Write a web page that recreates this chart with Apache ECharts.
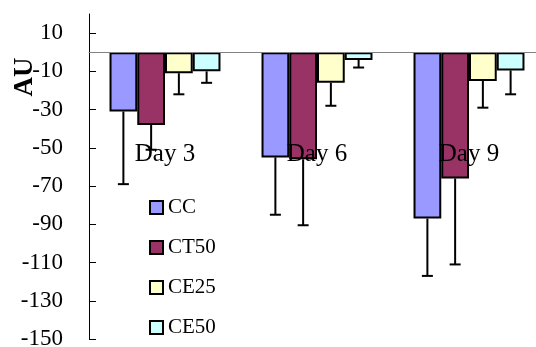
<!DOCTYPE html>
<html><head><meta charset="utf-8">
<script src="https://cdn.jsdelivr.net/npm/echarts@6/dist/echarts.min.js"></script>
<style>html,body{margin:0;padding:0;background:#fff}#c{width:536px;height:347px}</style>
</head><body><div id="c"></div>
<script>
const categories = ['Day 3', 'Day 6', 'Day 9'];
const seriesNames = ['CC', 'CT50', 'CE25', 'CE50'];
const ccValues = [-31, -55, -87];
const ct50Values = [-38, -56, -66];
const ce25Values = [-11, -16, -15];
const ce50Values = [-10, -4, -9.5];
const ccErrors = [38, 30, 30];
const ct50Errors = [13, 34.5, 45];
const ce25Errors = [11, 12, 14];
const ce50Errors = [6, 4, 12.5];
const yTicks = [10, -10, -30, -50, -70, -90, -110, -130, -150];

const colors = ['#9999FF', '#993366', '#FFFFCC', '#CCFFFF'];
const valueSets = [ccValues, ct50Values, ce25Values, ce50Values];
const errorSets = [ccErrors, ct50Errors, ce25Errors, ce50Errors];
const CAT_GAP = 0.27;
const FONT = '"Liberation Serif", "Times New Roman", serif';

const errData = [];
valueSets.forEach((vals, s) => {
  vals.forEach((v, i) => errData.push([i, v, errorSets[s][i], s]));
});

function renderErr(params, api) {
  const ci = api.value(0), v = api.value(1), e = api.value(2), s = api.value(3);
  const catW = api.size([1, 0])[0];
  const bw = catW * (1 - CAT_GAP) / 4;
  const off = (s - 1.5) * bw;
  const top = api.coord([ci, v]);
  const bot = api.coord([ci, v - e]);
  const x = top[0] + off;
  const cap = 11;
  return {
    type: 'group',
    children: [
      { type: 'line', shape: { x1: x, y1: top[1], x2: x, y2: bot[1] }, style: { stroke: '#000', lineWidth: 2 } },
      { type: 'line', shape: { x1: x - cap / 2, y1: bot[1], x2: x + cap / 2, y2: bot[1] }, style: { stroke: '#000', lineWidth: 2 } }
    ]
  };
}

const chart = echarts.init(document.getElementById('c'), null, { renderer: 'canvas' });
const barSeries = seriesNames.map((n, s) => ({
  name: n,
  type: 'bar',
  data: valueSets[s],
  barGap: '0%',
  barCategoryGap: (CAT_GAP * 100) + '%',
  itemStyle: { color: colors[s], borderColor: '#000', borderWidth: 2 },
  emphasis: { disabled: true },
  animation: false
}));

chart.setOption({
  animation: false,
  backgroundColor: '#fff',
  grid: { left: 89, top: 14, bottom: 8, right: -9, containLabel: false, outerBoundsMode: 'none' },
  legend: {
    data: seriesNames,
    orient: 'vertical',
    left: 149,
    top: 197,
    padding: 0,
    itemWidth: 13,
    itemHeight: 13,
    itemGap: 19,
    itemTextGap: 3,
    icon: 'rect',
    itemStyle: { borderColor: '#000', borderWidth: 2 },
    textStyle: { fontFamily: FONT, fontSize: 21, color: '#000', lineHeight: 21 }
  },
  xAxis: {
    type: 'category',
    data: categories,
    z: 5,
    offset: 0,
    axisLine: { onZero: false, lineStyle: { color: '#808080', width: 1 } },
    axisTick: { inside: true, length: 8, lineStyle: { color: '#808080', width: 1 } },
    axisLabel: { margin: 90, fontFamily: FONT, fontSize: 25, color: '#000', lineHeight: 25 },
    splitLine: { show: false }
  },
  yAxis: {
    type: 'value',
    min: -150,
    max: 20,
    axisLine: { show: true, lineStyle: { color: '#000', width: 1 } },
    axisTick: { show: true, inside: true, length: 7, customValues: yTicks, lineStyle: { color: '#000', width: 1 } },
    axisLabel: { margin: 26, customValues: yTicks, fontFamily: FONT, fontSize: 23, color: '#000' },
    splitLine: { show: false }
  },
  graphic: [{
    type: 'text', x: 25, y: 77, rotation: Math.PI / 2,
    style: { text: 'AU', font: 'bold 27px ' + FONT, align: 'center', verticalAlign: 'middle', fill: '#000' }
  }],
  series: barSeries.concat([{
    type: 'custom',
    name: 'err',
    renderItem: renderErr,
    data: errData,
    encode: { x: 0, y: 1 },
    z: 3,
    silent: true,
    animation: false
  }])
});

// Move the category axis (line, ticks, labels) up to the zero value of the y scale
const zeroY = chart.convertToPixel({ yAxisIndex: 0 }, 0);
const minY = chart.convertToPixel({ yAxisIndex: 0 }, -150);
chart.setOption({ xAxis: { offset: zeroY - minY } });
</script></body></html>
